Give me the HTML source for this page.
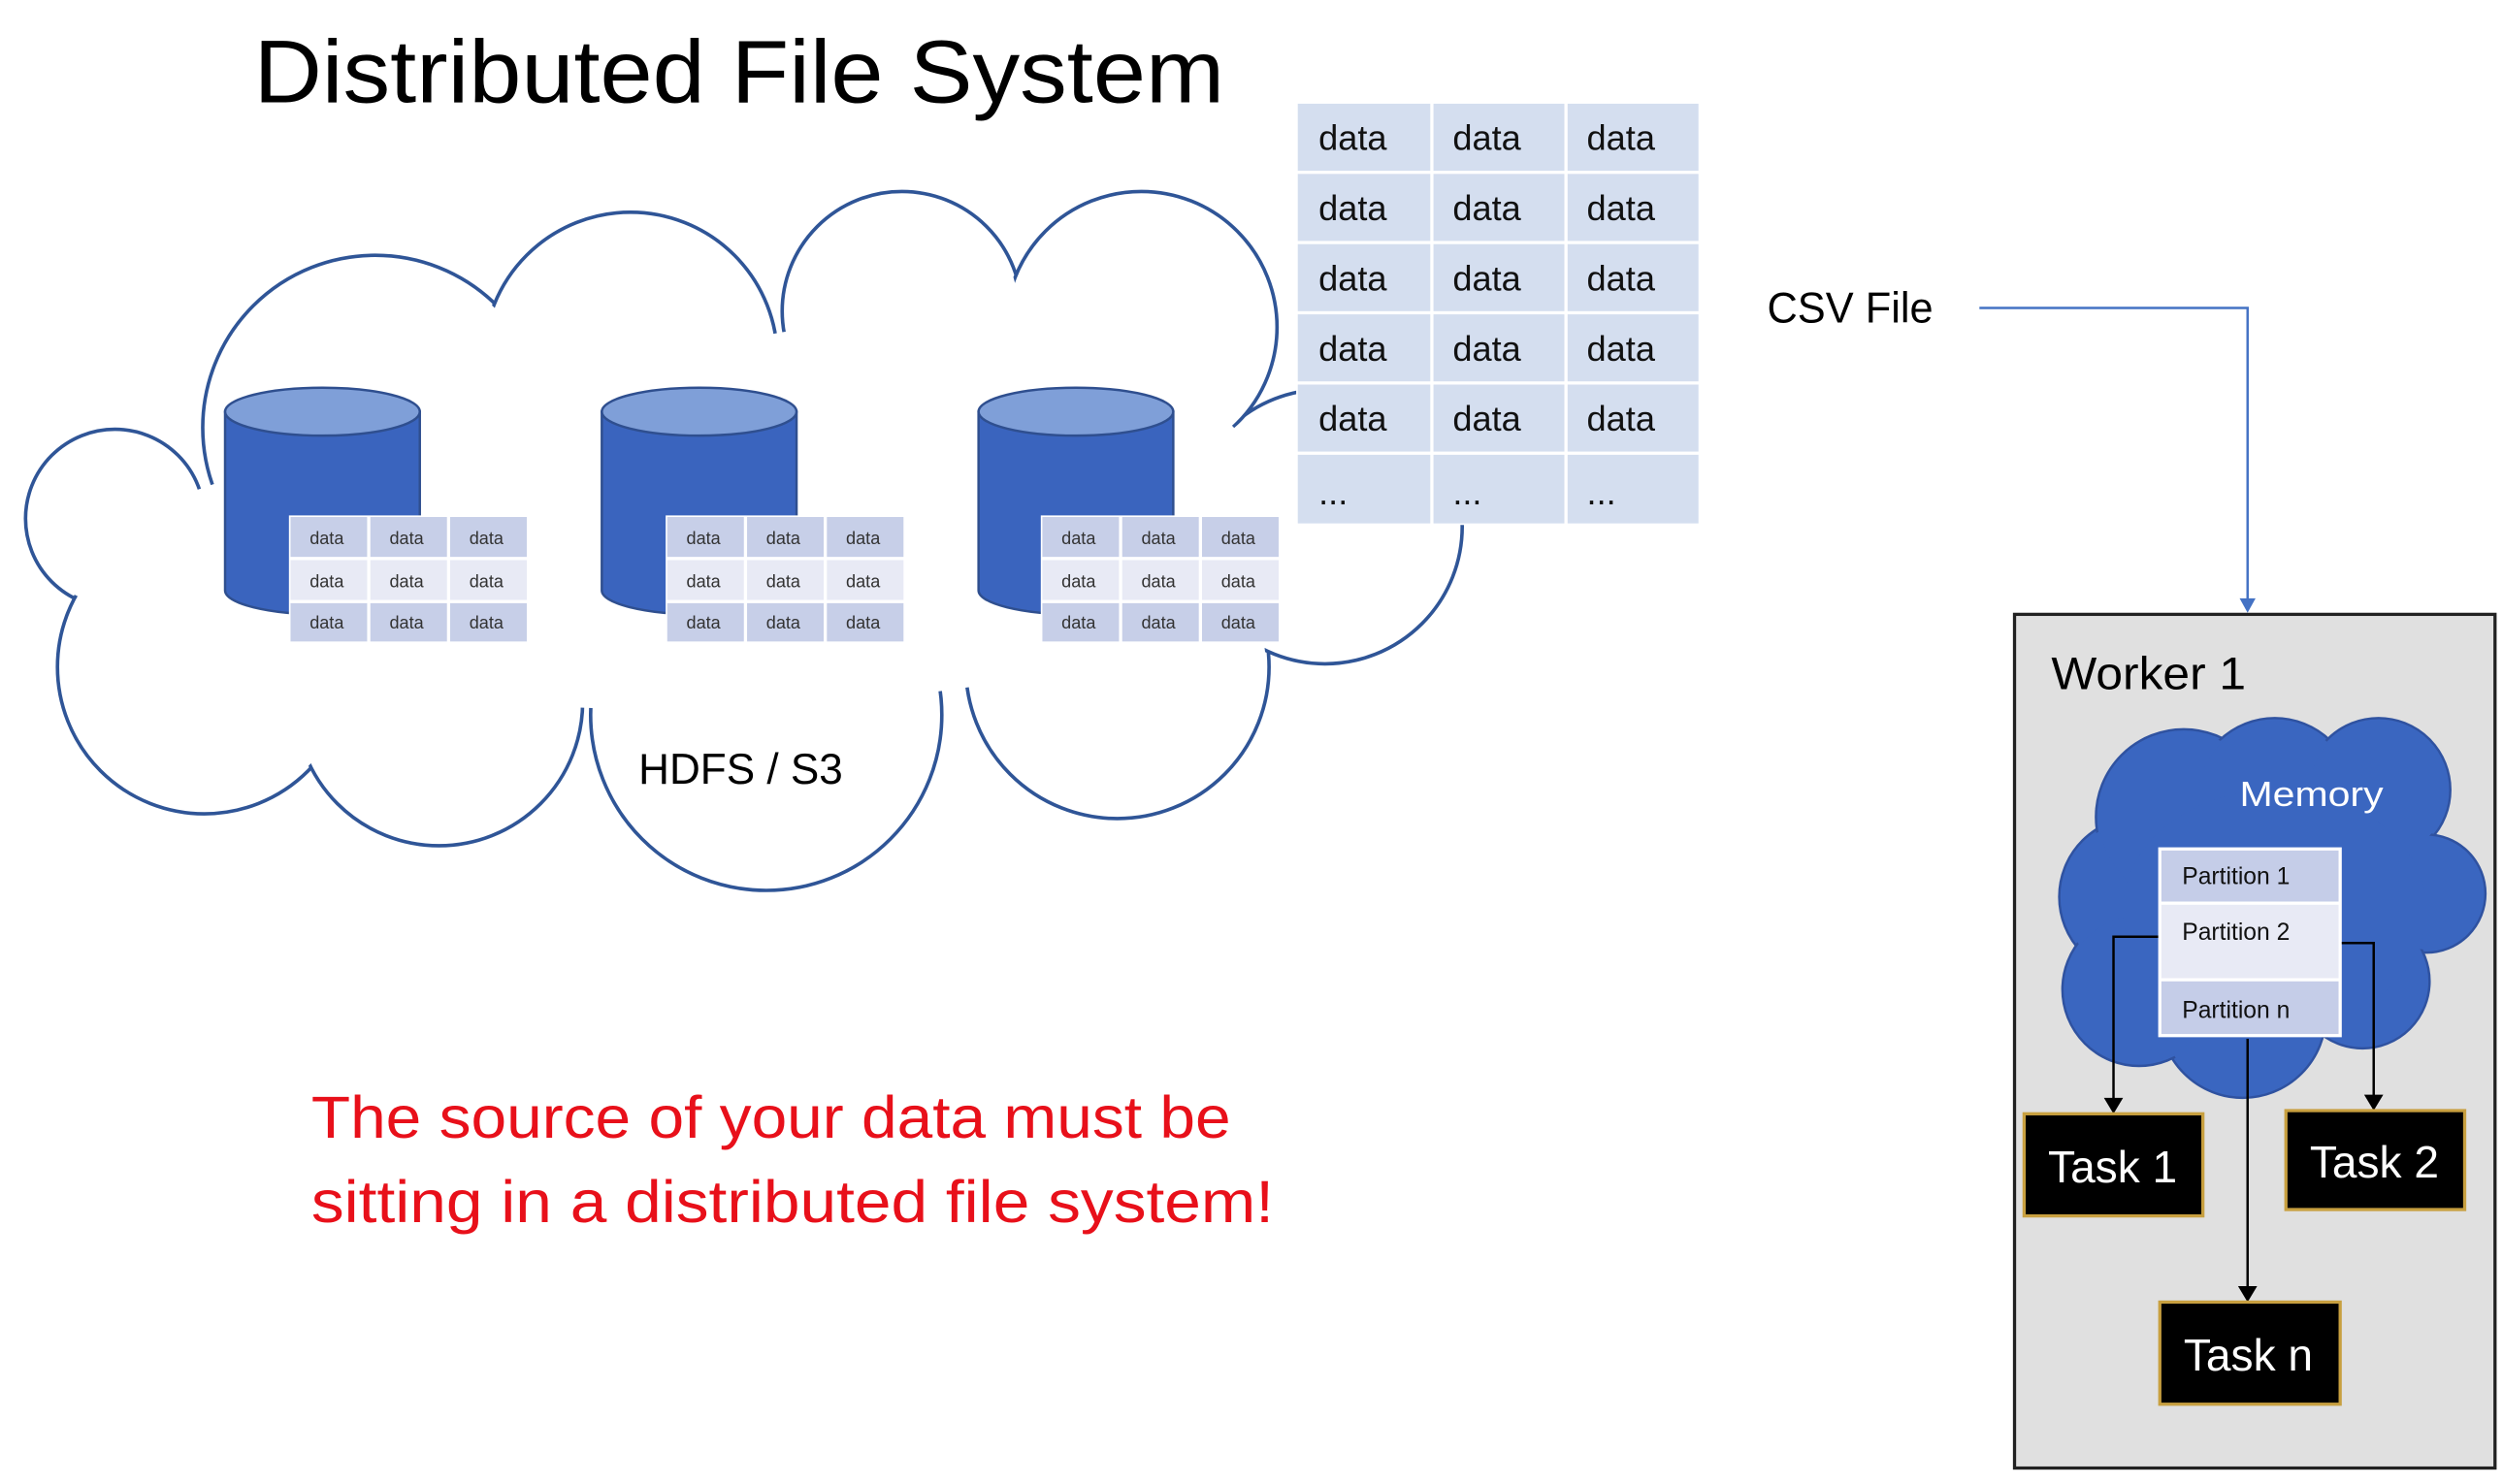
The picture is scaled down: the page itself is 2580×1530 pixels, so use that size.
<!DOCTYPE html>
<html><head><meta charset="utf-8"><style>
html,body{margin:0;padding:0;background:#fff;}
svg{display:block;}
text{font-family:"Liberation Sans",sans-serif;}
</style></head><body>
<svg width="2580" height="1530" viewBox="0 0 1568 930" preserveAspectRatio="none" xmlns="http://www.w3.org/2000/svg">
<text x="159" y="64" font-size="56" textLength="608" lengthAdjust="spacingAndGlyphs">Distributed File System</text>

<!-- HDFS cloud -->
<g stroke="#2f5597" stroke-width="2.2" fill="#fff">
<circle cx="235" cy="268" r="108"/><circle cx="72" cy="325" r="56"/><circle cx="128" cy="418" r="92"/>
<circle cx="275" cy="440" r="90"/><circle cx="480" cy="448" r="110"/><circle cx="700" cy="418" r="95"/>
<circle cx="830" cy="330" r="86"/><circle cx="395" cy="225" r="92"/><circle cx="565" cy="195" r="75"/><circle cx="715" cy="205" r="85"/>
</g>
<g fill="#fff">
<circle cx="235" cy="268" r="106"/><circle cx="72" cy="325" r="54"/><circle cx="128" cy="418" r="90"/>
<circle cx="275" cy="440" r="88"/><circle cx="480" cy="448" r="108"/><circle cx="700" cy="418" r="93"/>
<circle cx="830" cy="330" r="84"/><circle cx="395" cy="225" r="90"/><circle cx="565" cy="195" r="73"/><circle cx="715" cy="205" r="83"/>
<polygon points="72,325 128,418 275,440 480,448 700,418 830,330 715,205 565,195 395,225 235,268"/>
</g>
<text x="400" y="491" font-size="27" textLength="128" lengthAdjust="spacingAndGlyphs">HDFS / S3</text>

<!-- cylinders -->
<g id="cyl">
<path d="M141,258 L141,370 A61,15 0 0 0 263,370 L263,258 z" fill="#3a64be" stroke="#2f4f8f" stroke-width="1.5"/>
<ellipse cx="202" cy="258" rx="61" ry="15" fill="#7f9fd8" stroke="#2f4f8f" stroke-width="1.5"/>
</g>
<use href="#cyl" x="236"/><use href="#cyl" x="472"/>

<!-- small tables -->
<g id="st" font-size="11" fill="#333">
<rect x="181" y="323" width="149" height="79" fill="#fff"/>
<rect x="182" y="324" width="48" height="25" fill="#c7cfe8"/><rect x="232" y="324" width="48" height="25" fill="#c7cfe8"/><rect x="282" y="324" width="48" height="25" fill="#c7cfe8"/>
<rect x="182" y="351" width="48" height="25" fill="#e8eaf5"/><rect x="232" y="351" width="48" height="25" fill="#e8eaf5"/><rect x="282" y="351" width="48" height="25" fill="#e8eaf5"/>
<rect x="182" y="378" width="48" height="24" fill="#c7cfe8"/><rect x="232" y="378" width="48" height="24" fill="#c7cfe8"/><rect x="282" y="378" width="48" height="24" fill="#c7cfe8"/>
<text x="194" y="341">data</text><text x="244" y="341">data</text><text x="294" y="341">data</text>
<text x="194" y="368">data</text><text x="244" y="368">data</text><text x="294" y="368">data</text>
<text x="194" y="394">data</text><text x="244" y="394">data</text><text x="294" y="394">data</text>
</g>
<use href="#st" x="236"/><use href="#st" x="471"/>

<!-- big CSV table -->
<rect x="812" y="64" width="253" height="265" fill="#fff"/>
<g fill="#d4deef">
<rect x="813" y="65" width="83" height="42"/><rect x="898" y="65" width="82" height="42"/><rect x="982" y="65" width="82" height="42"/>
<rect x="813" y="109" width="83" height="42"/><rect x="898" y="109" width="82" height="42"/><rect x="982" y="109" width="82" height="42"/>
<rect x="813" y="153" width="83" height="42"/><rect x="898" y="153" width="82" height="42"/><rect x="982" y="153" width="82" height="42"/>
<rect x="813" y="197" width="83" height="42"/><rect x="898" y="197" width="82" height="42"/><rect x="982" y="197" width="82" height="42"/>
<rect x="813" y="241" width="83" height="42"/><rect x="898" y="241" width="82" height="42"/><rect x="982" y="241" width="82" height="42"/>
<rect x="813" y="285" width="83" height="43"/><rect x="898" y="285" width="82" height="43"/><rect x="982" y="285" width="82" height="43"/>
</g>
<g font-size="22" fill="#111">
<text x="826" y="94">data</text><text x="910" y="94">data</text><text x="994" y="94">data</text>
<text x="826" y="138">data</text><text x="910" y="138">data</text><text x="994" y="138">data</text>
<text x="826" y="182">data</text><text x="910" y="182">data</text><text x="994" y="182">data</text>
<text x="826" y="226">data</text><text x="910" y="226">data</text><text x="994" y="226">data</text>
<text x="826" y="270">data</text><text x="910" y="270">data</text><text x="994" y="270">data</text>
<text x="826" y="316">...</text><text x="910" y="316">...</text><text x="994" y="316">...</text>
</g>

<text x="1107" y="202" font-size="27" textLength="104" lengthAdjust="spacingAndGlyphs">CSV File</text>
<path d="M1240,193 L1408,193 L1408,376" fill="none" stroke="#4472c4" stroke-width="1.5"/>
<polygon points="1403,375 1413,375 1408,384" fill="#4472c4"/>

<!-- worker -->
<rect x="1262" y="385" width="301" height="535" fill="#e0e0e0" stroke="#222" stroke-width="2"/>
<text x="1285" y="432" font-size="29" textLength="122" lengthAdjust="spacingAndGlyphs">Worker 1</text>

<g fill="#3a66c0" stroke="#2f52a0" stroke-width="1.5">
<circle cx="1340" cy="562" r="50"/><circle cx="1368" cy="512" r="55"/><circle cx="1425" cy="500" r="50"/><circle cx="1490" cy="495" r="45"/>
<circle cx="1520" cy="560" r="37"/><circle cx="1480" cy="615" r="42"/><circle cx="1405" cy="636" r="52"/><circle cx="1340" cy="620" r="48"/>
</g>
<g fill="#3a66c0">
<circle cx="1340" cy="562" r="48"/><circle cx="1368" cy="512" r="53"/><circle cx="1425" cy="500" r="48"/><circle cx="1490" cy="495" r="43"/>
<circle cx="1520" cy="560" r="35"/><circle cx="1480" cy="615" r="40"/><circle cx="1405" cy="636" r="50"/><circle cx="1340" cy="620" r="46"/>
<ellipse cx="1425" cy="570" rx="95" ry="75"/>
</g>
<text x="1403" y="505" font-size="22" fill="#fff" textLength="90" lengthAdjust="spacingAndGlyphs">Memory</text>

<rect x="1352" y="531" width="115" height="119" fill="#fff"/>
<rect x="1354" y="533" width="111" height="32" fill="#c5cde8"/>
<rect x="1354" y="567" width="111" height="46" fill="#e8eaf5"/>
<rect x="1354" y="615" width="111" height="33" fill="#c5cde8"/>
<g font-size="15" fill="#111">
<text x="1367" y="554">Partition 1</text><text x="1367" y="589">Partition 2</text><text x="1367" y="638">Partition n</text>
</g>

<g stroke="#000" stroke-width="1.5" fill="none">
<path d="M1352,587 L1324,587 L1324,690"/>
<path d="M1467,591 L1487,591 L1487,688"/>
<path d="M1408,651 L1408,808"/>
</g>
<g fill="#000">
<polygon points="1318,688 1330,688 1324,698"/>
<polygon points="1481,686 1493,686 1487,696"/>
<polygon points="1402,806 1414,806 1408,816"/>
</g>

<g stroke="#c8a040" stroke-width="2" fill="#000">
<rect x="1268" y="698" width="112" height="64"/><rect x="1432" y="696" width="112" height="62"/><rect x="1353" y="816" width="113" height="64"/>
</g>
<g font-size="28" fill="#fff">
<text x="1283" y="741">Task 1</text><text x="1447" y="738">Task 2</text><text x="1368" y="859">Task n</text>
</g>

<g font-size="37" fill="#e8101a">
<text x="195" y="713" textLength="576" lengthAdjust="spacingAndGlyphs">The source of your data must be</text>
<text x="195" y="766" textLength="603" lengthAdjust="spacingAndGlyphs">sitting in a distributed file system!</text>
</g>
</svg>
</body></html>
